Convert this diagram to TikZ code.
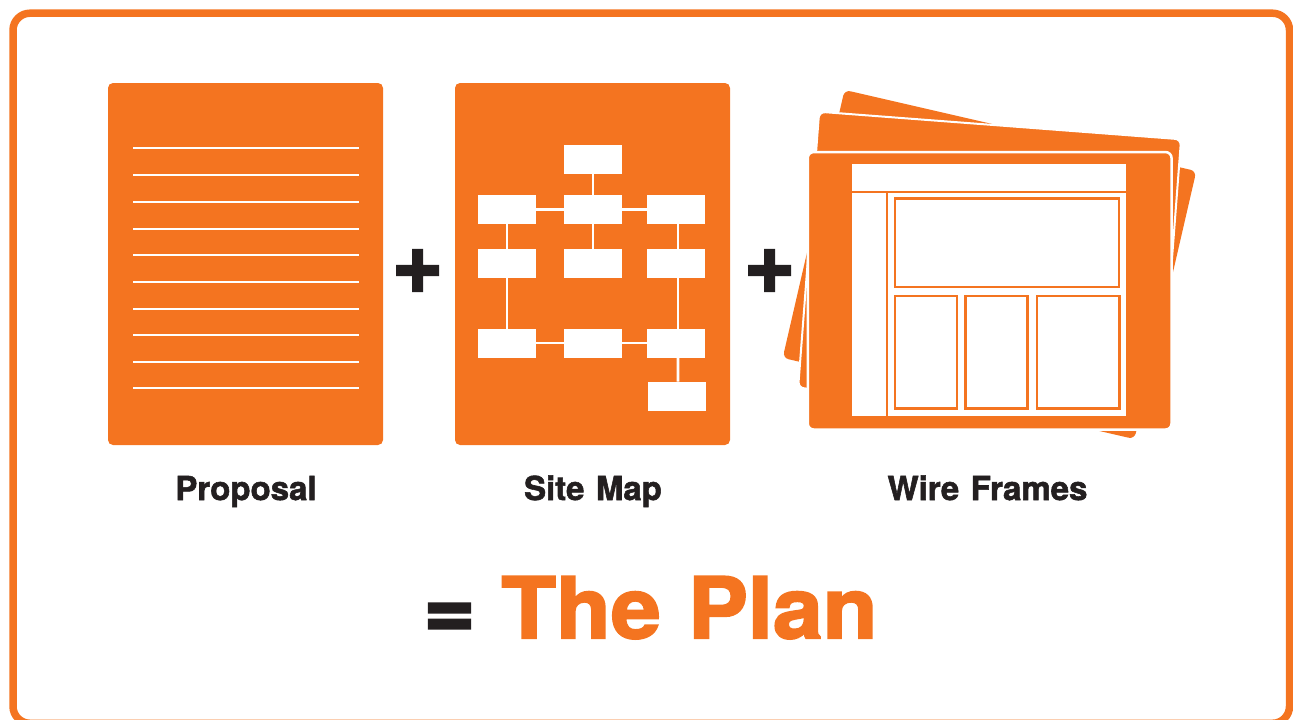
\documentclass[tikz,border=0pt]{standalone}
\usepackage{fontspec}
\setmainfont{TeX Gyre Heros}
\newfontfamily\captionheavy{TeX Gyre Heros Bold}[FakeBold=1.7,WordSpace=1.25]
\newfontfamily\signheavy{TeX Gyre Heros Bold}[FakeBold=2.5]
\newfontfamily\planheavy{TeX Gyre Heros Bold}[FakeBold=2.2,WordSpace=1.1]
\definecolor{planorange}{HTML}{F47420}
\definecolor{planink}{HTML}{231F20}
\tikzset{
  pagefill/.style={fill=planorange,rounded corners=5pt},
  sheet/.style={fill=planorange,rounded corners=6pt,outer sep=0pt,inner sep=0pt,minimum width=#1},
  wline/.style={draw=white,line width=2.8pt},
  mapbox/.style={fill=white,inner sep=0pt,outer sep=0pt,minimum width=58.6pt,minimum height=29pt},
  maplink/.style={draw=white,line width=2.6pt},
  wireframe/.style={draw=planorange,line width=2.4pt},
  wirebar/.style={fill=planorange},
  caption/.style={font=\captionheavy\fontsize{33}{34}\selectfont,text=planink,anchor=base,inner sep=0pt},
  opsign/.style={font=\signheavy\fontsize{88}{88}\selectfont,text=planink,anchor=base,inner sep=0pt},
}
\begin{document}
\begin{tikzpicture}[x=1pt,y=-1pt]
\useasboundingbox (0,0) rectangle (1293,720);
% outer frame
\draw[planorange,line width=7.5pt,rounded corners=17pt] (13,13.2) rectangle (1289.5,723.3);

% proposal page
\fill[pagefill] (108,83) rectangle (383,445);
\foreach \ly in {148,175,202,229,255,282,309,335,362,388}
  \draw[wline] (133,\ly) -- (359,\ly);

% site map page
\fill[pagefill] (455,83) rectangle (730,445);
\node[mapbox] (top) at (592.85,159) {};
\node[mapbox] (al) at (507.15,209.65) {};
\node[mapbox] (am) at (592.85,209.65) {};
\node[mapbox] (ar) at (676.15,209.65) {};
\node[mapbox] (bl) at (507.15,263) {};
\node[mapbox] (bm) at (592.85,263) {};
\node[mapbox] (br) at (676.15,263) {};
\node[mapbox] (cl) at (507.15,343) {};
\node[mapbox] (cm) at (592.85,343) {};
\node[mapbox] (cr) at (676.15,343) {};
\node[mapbox] (dr) at (676.85,396) {};
\draw[maplink] (top) -- (am);
\draw[maplink] (al) -- (am);
\draw[maplink] (am) -- (ar);
\draw[maplink] (am) -- (bm);
\draw[maplink] (al) -- (bl);
\draw[maplink] (bl) -- (cl);
\draw[maplink] (cl) -- (cm);
\draw[maplink] (cm) -- (cr);
\draw[maplink] ([xshift=1.8pt]ar.south) -- ([xshift=1.8pt]br.north);
\draw[maplink] ([xshift=1.8pt]br.south) -- ([xshift=1.8pt]cr.north);
\draw[maplink] ([xshift=1.8pt]cr.south) -- ([xshift=1.1pt]dr.north);

% wire frame sheets
\node[sheet=361pt,minimum height=275pt,rotate=-13] (sheetback) at (989.5,264.5) {};
\node[sheet=363pt,minimum height=277pt,rotate=-4.35,draw=white,line width=2pt] (sheetmid) at (989.6,263.6) {};
\node[sheet=363.8pt,minimum height=277.5pt,draw=white,line width=2.5pt] (sheetfront) at (989.65,290.8) {};
\fill[white] (852,164) rectangle (1125.7,416);
\fill[wirebar] (852,190.7) rectangle (1125.7,193.3);
\fill[wirebar] (885.7,193.3) rectangle (888.3,416);
\draw[wireframe] (894.7,198.3) rectangle (1119,286.7);
\draw[wireframe] (894.7,296) rectangle (956.7,408.3);
\draw[wireframe] (965.3,296) rectangle (1027.3,408.3);
\draw[wireframe] (1037,296) rectangle (1119.3,408.3);

% operators
\node[opsign] (plusa) at (417.7,292.5) {+};
\node[opsign] (plusb) at (769.7,292.5) {+};

% captions
\node[caption] (proposal) at (246,500) {Proposal};
\node[caption] (sitemap) at (593,500) {Site Map};
\node[caption] (wireframes) at (987.5,500) {Wire Frames};

% result
\node[opsign] (equals) at (449.5,638) {=};
\node[font=\planheavy\fontsize{85}{88}\selectfont,text=planorange,anchor=base,inner sep=0pt,xscale=1.055] (plan) at (689.5,638.3) {The Plan};
\end{tikzpicture}
\end{document}
